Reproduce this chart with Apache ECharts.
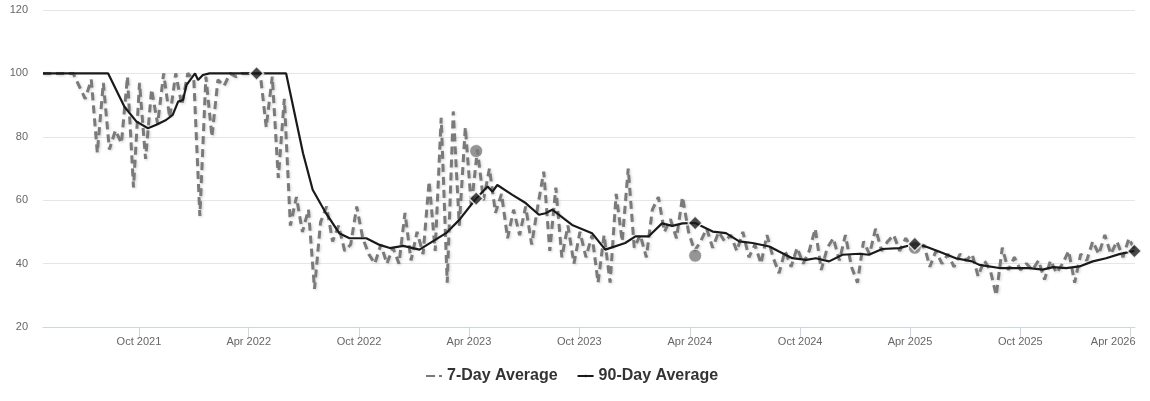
<!DOCTYPE html>
<html>
<head>
<meta charset="utf-8">
<script src="https://cdn.jsdelivr.net/npm/echarts@6/dist/echarts.min.js"></script>
<style>
html,body{margin:0;padding:0;background:#fff;}
#chart{width:1150px;height:401px;}
</style>
</head>
<body>
<div id="chart"></div>
<script>
// ---- DATA ----
const sevenDayStart = '2021-04-25';
const sevenDayStepDays = 10;
const sevenDayValues = [
  100,100,100,100,100,100,96,92,98,75,
  97,76,82,78,99,64,97,73,95,84,
  100,86,100,90,100,98,55,99,80,98,
  96,100,99,100,100,100,100,83,99,67,
  92,52,61,50,57,32,53,58,47,52,
  44,46,58,48,43,40,46,40,45,40,
  56,41,50,43,66,44,86,34,88,52,
  83,58,76,60,70,56,62,48,57,49,
  58,46,58,69,44,64,42,52,40,50,
  42,49,34,49,34,62,47,70,45,49,
  42,57,61,50,54,48,61,50,44,47,
  51,45,50,47,49,44,50,42,46,40,
  49,42,37,44,39,45,40,44,51,38,
  45,48,41,49,39,34,47,43,51,44,
  47,49,44,48,45,44,46,39,44,40,
  43,39,43,41,43,36,41,38,30,45,
  38,42,38,40,38,41,35,41,37,40,
  44,34,43,41,47,43,49,43,47,42,
  48,44
];

const ninetyDayDates = [
  '2021-04-25','2021-08-11','2021-09-07','2021-09-27','2021-10-16','2021-10-30','2021-11-15','2021-11-26',
  '2021-12-05','2021-12-13','2021-12-19','2022-01-02','2022-01-07','2022-01-15','2022-01-26','2022-06-02',
  '2022-06-30','2022-07-16','2022-08-07','2022-08-29','2022-09-15','2022-10-13','2022-11-04','2022-11-21',
  '2022-12-13','2023-01-09','2023-01-31','2023-02-22','2023-03-16','2023-04-07','2023-04-13','2023-05-02',
  '2023-05-10','2023-05-18','2023-06-12','2023-07-04','2023-07-26','2023-08-06','2023-08-17','2023-09-19',
  '2023-10-22','2023-11-13','2023-12-16','2024-01-02','2024-01-24','2024-02-15','2024-03-03','2024-03-20',
  '2024-04-10','2024-05-09','2024-05-31','2024-06-22','2024-07-14','2024-08-11','2024-08-27','2024-09-18',
  '2024-10-11','2024-10-27','2024-11-18','2024-12-10','2025-01-07','2025-01-23','2025-02-14','2025-03-14',
  '2025-04-09','2025-04-27','2025-05-19','2025-06-16','2025-07-13','2025-07-25','2025-08-27','2025-10-16',
  '2025-11-07','2025-11-24','2025-12-16','2026-01-07','2026-01-29','2026-02-20','2026-03-14','2026-04-08'
];
const ninetyDayValues = [
  100,100,89.5,84.8,82.7,83.8,85.3,86.9,
  91.1,91.6,96.4,100,97.9,99.5,100,100,
  74.8,63.3,55.9,49.6,48.0,48.0,45.9,44.9,
  45.6,44.4,47.0,49.6,53.8,59.1,60.5,64.3,
  62.7,64.8,61.7,59.1,55.4,55.9,57.0,52.2,
  49.6,44.4,46.5,48.6,48.6,52.7,51.9,52.7,
  52.8,50.1,49.6,47.0,46.5,45.4,43.8,41.7,
  41.2,41.7,40.7,42.8,43.1,42.8,44.6,44.9,
  46.2,45.4,43.8,41.7,40.7,39.6,38.6,38.6,
  38.1,38.9,38.6,39.1,40.7,41.7,43.0,44.0
];

// annual snapshot markers
const diamondDates = ['2022-04-14','2023-04-13','2024-04-10','2025-04-09','2026-04-08'];
const diamondValues = [100, 60.5, 52.8, 46.2, 44.0];
const circleDates = ['2023-04-13','2024-04-10','2025-04-09'];
const circleValues = [75.5, 42.5, 45.0];

const tickDates = ['2021-10-01','2022-04-01','2022-10-01','2023-04-01','2023-10-01','2024-04-01','2024-10-01','2025-04-01','2025-10-01','2026-04-01'];
const tickLabels = ['Oct 2021','Apr 2022','Oct 2022','Apr 2023','Oct 2023','Apr 2024','Oct 2024','Apr 2025','Oct 2025','Apr 2026'];

const yTicks = [20, 40, 60, 80, 100, 120];
const axisStart = '2021-04-25';
const axisEnd = '2026-04-09';

// ---- BUILD ----
function localTs(s){ const p = s.split('-').map(Number); return new Date(p[0], p[1]-1, p[2]).getTime(); }
const sp = sevenDayStart.split('-').map(Number);
const sevenDayData = sevenDayValues.map((v,i)=>[new Date(sp[0], sp[1]-1, sp[2] + i*sevenDayStepDays).getTime(), v]);
const ninetyDayData = ninetyDayDates.map((d,i)=>[localTs(d), ninetyDayValues[i]]);
const diamondData = diamondDates.map((d,i)=>[localTs(d), diamondValues[i]]);
const circleData = circleDates.map((d,i)=>[localTs(d), circleValues[i]]);
const tickTs = tickDates.map(localTs);

const FONT = '"Liberation Sans", Arial, Helvetica, sans-serif';

const chart = echarts.init(document.getElementById('chart'), null, {renderer:'canvas'});
chart.setOption({
  animation: false,
  backgroundColor: '#ffffff',
  grid: { left: 43, right: 15, top: 10, bottom: 74, outerBoundsMode: 'none', containLabel: false },
  legend: {
    left: 420, top: 363,
    itemWidth: 16, itemHeight: 3, itemGap: 19,
    textStyle: { fontFamily: FONT, fontSize: 16, fontWeight: 'bold', color: '#333333' },
    data: ['7-Day Average', '90-Day Average']
  },
  xAxis: {
    type: 'value',
    min: localTs(axisStart), max: localTs(axisEnd),
    axisLine: { show: true, lineStyle: { color: '#ccd6eb', width: 1 } },
    axisTick: { show: true, customValues: tickTs, length: 10, lineStyle: { color: '#ccd6eb' } },
    axisLabel: {
      customValues: tickTs, margin: 9, fontFamily: FONT, fontSize: 11, color: '#666666',
      hideOverlap: false,
      rich: { last: { fontFamily: FONT, fontSize: 11, color: '#666666', padding: [0, 34, 0, 0] } },
      formatter: function(v){
        const i = tickTs.indexOf(v);
        if (i < 0) return '';
        return i === tickLabels.length - 1 ? '{last|' + tickLabels[i] + '}' : tickLabels[i];
      }
    },
    splitLine: { show: false }
  },
  yAxis: {
    type: 'value', min: yTicks[0], max: yTicks[yTicks.length-1], interval: 20,
    axisLine: { show: false }, axisTick: { show: false },
    axisLabel: { margin: 15, fontFamily: FONT, fontSize: 11, color: '#666666' },
    splitLine: { lineStyle: { color: '#e6e6e6', width: 1 } }
  },
  series: [
    {
      name: '7-Day Average', type: 'line', data: sevenDayData,
      symbol: 'none', z: 2,
      color: '#7a7a7a',
      lineStyle: { color: '#7a7a7a', width: 3, type: [8, 5],
        shadowColor: 'rgba(0,0,0,0.18)', shadowBlur: 3, shadowOffsetX: 1, shadowOffsetY: 1 }
    },
    {
      name: '90-Day Average', type: 'line', data: ninetyDayData,
      symbol: 'none', z: 3,
      color: '#1a1a1a',
      lineStyle: { color: '#1a1a1a', width: 2.2 }
    },
    {
      name: '7-Day marker', type: 'scatter', data: circleData, z: 4,
      symbol: 'circle', symbolSize: 13,
      itemStyle: { color: '#7a7a7a', borderColor: '#ffffff', borderWidth: 1 }
    },
    {
      name: '90-Day marker', type: 'scatter', data: diamondData, z: 5,
      symbol: 'diamond', symbolSize: 14,
      itemStyle: { color: '#1a1a1a', borderColor: '#ffffff', borderWidth: 1.5 }
    }
  ]
});
</script>
</body>
</html>
